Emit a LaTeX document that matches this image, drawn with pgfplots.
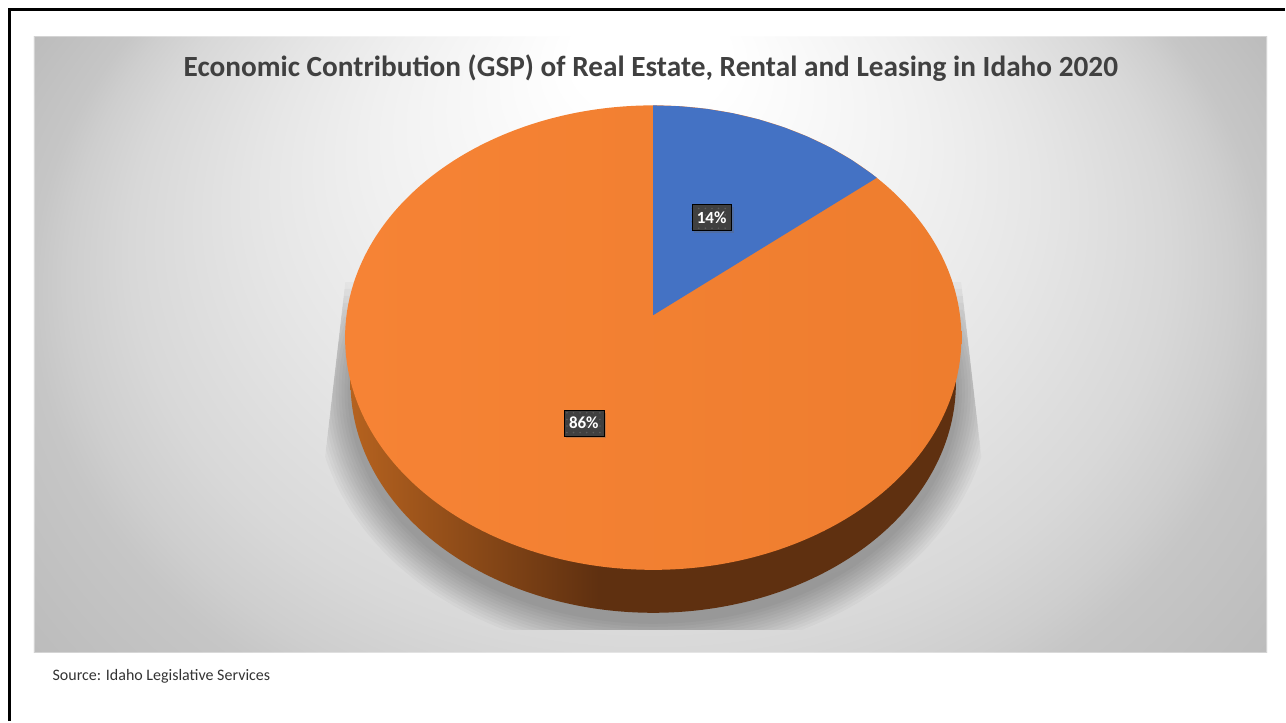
\documentclass[border=0pt]{standalone}
\usepackage{fontspec}
\setmainfont{Carlito}
\usepackage{pgfplots}
\usepackage{pgfplotstable}
\pgfplotsset{compat=1.18}
\usetikzlibrary{shadows,patterns}
\definecolor{blueslice}{HTML}{4472C4}
\definecolor{titlegrey}{HTML}{404040}
\definecolor{dotgrey}{HTML}{5C5C5C}
\definecolor{bgB}{HTML}{F0F0F0}
\definecolor{bgC}{HTML}{E6E6E6}
\definecolor{bgD}{HTML}{D8D8D8}
\definecolor{bgE}{HTML}{CECECE}
\definecolor{bgF}{HTML}{C6C6C6}
\definecolor{bgG}{HTML}{BCBCBC}
\pgfdeclareradialshading{bgshade}{\pgfpoint{0bp}{28.6bp}}{%
 color(0bp)=(white);
 color(3bp)=(white);
 color(10.75bp)=(bgB);
 color(15bp)=(bgC);
 color(20.15bp)=(bgD);
 color(22.6bp)=(bgE);
 color(24bp)=(bgF);
 color(28.45bp)=(bgG);
 color(50bp)=(bgG)}
\definecolor{sideA}{HTML}{B5621F}
\definecolor{sideB}{HTML}{5F3010}
\definecolor{topL}{HTML}{F68335}
\definecolor{topR}{HTML}{EE7D2E}
\pgfdeclarehorizontalshading{sideshade}{100bp}{%
 color(0bp)=(sideA);
 color(25bp)=(sideA);
 color(45.5bp)=(sideB);
 color(100bp)=(sideB)}
\pgfdeclarepatternformonly{labeldots}{\pgfqpoint{-1pt}{-1pt}}{\pgfqpoint{1pt}{1pt}}{\pgfqpoint{6.6pt}{6.6pt}}{%
  \pgfpathcircle{\pgfqpoint{0pt}{0pt}}{.9pt}\pgfusepath{fill}}
% outline of the disc's top face (pixels of the picture, y downwards)
\pgfplotstableread{
x y
653.5 105
733.3 112.9
807.75 136.2
871.6 173.1
920.7 221.25
951.5 277.3
962 337.5
951.5 397.7
920.7 453.75
871.6 501.9
807.75 538.8
733.3 562.1
653.5 570
573.7 562.1
499.25 538.8
435.4 501.9
386.3 453.75
355.5 397.7
345 337.5
355.5 277.3
386.3 221.25
435.4 173.1
499.25 136.2
573.7 112.9
}\topface
% outline of the disc's lower edge
\pgfplotstableread{
x y
653.5 153
731.9 160.8
805 183.8
867.8 220.4
915.9 268
946.2 323.5
956.5 383
946.2 442.5
915.9 498
867.8 545.6
805 582.2
731.9 605.2
653.5 613
575.1 605.2
502 582.2
439.2 545.6
391.1 498
360.8 442.5
350.5 383
360.8 323.5
391.1 268
439.2 220.4
502 183.8
575.1 160.8
}\bottomface
% the 14 % slice
\pgfplotstableread{
x y
653.5 315
653.5 105
680.4 105.9
707.1 108.5
733.3 112.9
759 119
783.9 126.8
807.75 136.2
830.4 147
851.8 159.4
871.6 173.1
877.3 177.5
}\slice
% data labels: position and share
\pgfplotstableread{
x y share
712 217 14
584 423 86
}\labels
\begin{document}
\begin{tikzpicture}
\begin{axis}[
  x=1pt,y=1pt,y dir=reverse,
  xmin=-.5,xmax=1285.5,ymin=-.5,ymax=721.5,
  hide axis,clip=false,no markers,
  scale only axis,
  /pgf/number format/assume math mode=true,
]
\fill[white] (axis cs:-.5,-.5) rectangle (axis cs:1285.5,721.5);
\begin{scope}
 \clip (axis cs:33.5,36) rectangle (axis cs:1268,653);
 \node[overlay,inner sep=0pt,outer sep=0pt,transform shape,xscale=25.70,yscale=19.925] at (axis cs:650,591.5) {\pgfuseshading{bgshade}};
\end{scope}
\draw[white,opacity=.35,line width=1pt] (axis cs:34,36.5) rectangle (axis cs:1267.5,652.5);
% shadow under the disc
\pgfplotsinvokeforeach{3,6,9,12,15,18,21,24,27,30,33,36}{
 \begin{scope}
  \clip (axis cs:{346-(#1*2.3)*.112},{275+#1*2.3}) -- (axis cs:325,457) -- (axis cs:325,630) -- (axis cs:982,630) -- (axis cs:982,457) -- (axis cs:{961+(#1*2.3)*.112},{275+#1*2.3}) -- cycle;
  \addplot[draw=none,fill=black,fill opacity=.027,smooth cycle,tension=.61]
   table[x expr={653.5+(\thisrow{x}-653.5)*(303+39-#1)/303},
         y expr={391+(\thisrow{y}-383)*(230+39-#1)/230}] {\bottomface};
 \end{scope}
}
% disc
\addplot[draw=none,shade,shading=sideshade,smooth cycle,tension=.61] table {\bottomface};
\addplot[draw=none,left color=topL,right color=topR,smooth cycle,tension=.61] table {\topface};
\addplot[draw=none,fill=blueslice] table {\slice} -- cycle;
% labels
\addplot[only marks,mark=none,point meta=explicit,
  nodes near coords={\pgfmathprintnumber{\pgfplotspointmeta}\%},
  nodes near coords align={center},
  every node near coord/.append style={
    font=\fontsize{17}{18}\selectfont\bfseries,text=white,fill=titlegrey,
    inner sep=0pt,minimum width=40pt,minimum height=26pt,anchor=center,
    postaction={pattern=labeldots,pattern color=dotgrey},
    copy shadow={shadow xshift=2.5pt,shadow yshift=-2.5pt,fill=black!60,draw=none,opacity=.35}}]
  table[meta=share] {\labels};
% text
\node[font=\fontsize{29.3}{34}\selectfont\bfseries,text=titlegrey,anchor=base,inner sep=0pt] at (axis cs:651,76) {Economic Contribution (GSP) of Real Estate, Rental and Leasing in Idaho 2020};
\node[font=\fontsize{16}{18}\selectfont,text=black!80,anchor=base west,inner sep=0pt] at (axis cs:52,681) {Source: Idaho Legislative Services};
% slide frame
\draw[black,line width=3pt] (axis cs:9.5,721.5) -- (axis cs:9.5,9) -- (axis cs:1285.5,9);
\end{axis}
\end{tikzpicture}
\end{document}
